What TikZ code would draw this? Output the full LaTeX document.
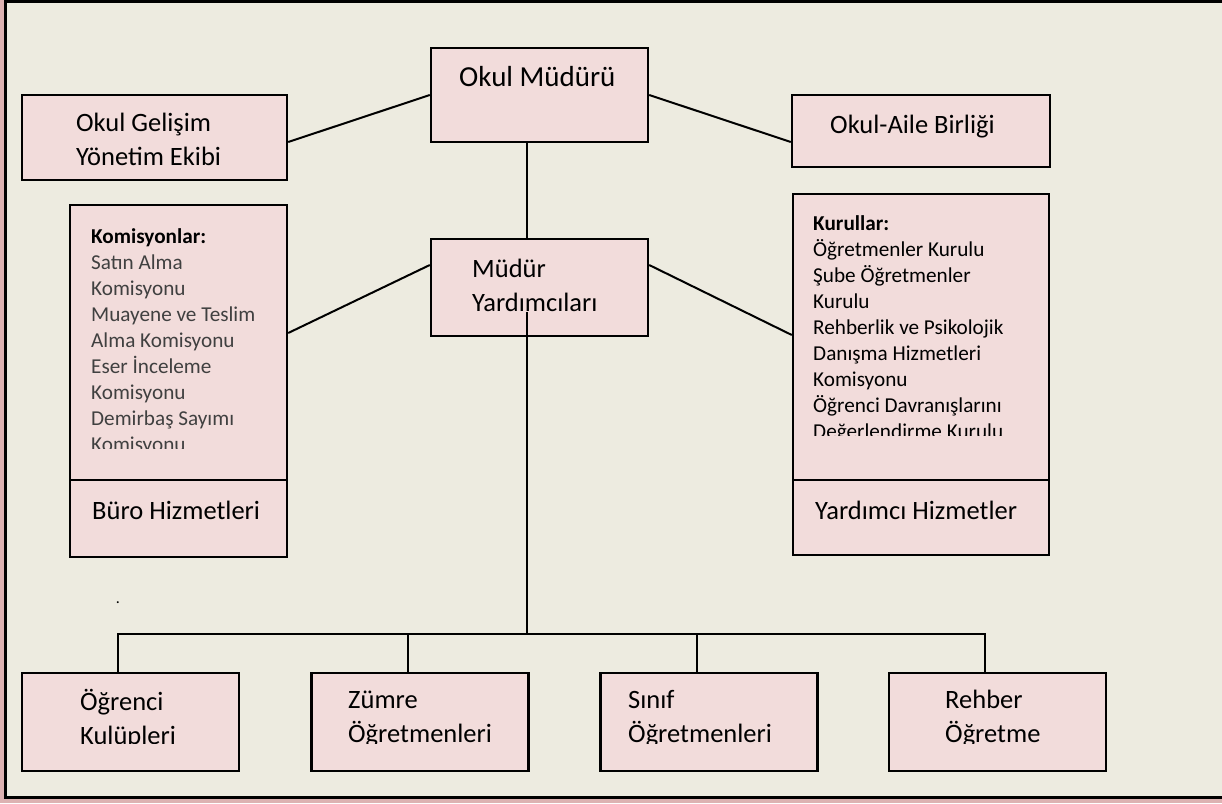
\documentclass[tikz,border=0pt]{standalone}
\usepackage{fontspec}
\setmainfont{Carlito}
\definecolor{kutupembe}{HTML}{F2DCDB}
\definecolor{zemin}{HTML}{EDEBE0}
\definecolor{kenar}{HTML}{DDB2B2}
\definecolor{listegri}{HTML}{404040}

\begin{document}
\begin{tikzpicture}[x=1pt,y=-1pt,
  kutu/.style={draw, fill=kutupembe, line width=2.4pt, inner sep=0pt},
  baslik/.style={font=\fontsize{26.5}{34}\selectfont, align=left, inner sep=0pt, anchor=west},
  liste/.style={font=\fontsize{21.2}{26}\selectfont, align=left, inner sep=0pt, anchor=north west},
  hat/.style={line width=2pt}]
\useasboundingbox (0,0) rectangle (1222,803);
% page frame
\fill[kenar] (0,0) rectangle (1222,803);
\fill[zemin] (5,0) rectangle (1222,797);
\draw[line width=3pt] (1222,1.5) -- (5,1.5) -- (5,797) -- (1222,797);

% boxes
\node[kutu, minimum width=217pt, minimum height=94pt] (mudur) at (539.5,95) {};
\node[kutu, minimum width=265pt, minimum height=85pt] (ekip) at (154.5,137.5) {};
\node[kutu, minimum width=258pt, minimum height=72pt] (aile) at (921,131) {};
\node[kutu, minimum width=217pt, minimum height=97pt] (yard) at (539.5,287.5) {};
\node[kutu, minimum width=217pt, minimum height=275pt] (komis) at (178.5,342.5) {};
\node[kutu, minimum width=217pt, minimum height=77pt] (buro) at (178.5,518.5) {};
\node[kutu, minimum width=256pt, minimum height=286pt] (kurul) at (921,337) {};
\node[kutu, minimum width=256pt, minimum height=75pt] (yhiz) at (921,517.5) {};
\foreach \ad/\x in {ogr/130.5, zum/420, sinif/709, rehber/997.5}
  \node[kutu, minimum width=217pt, minimum height=98pt] (\ad) at (\x,722) {};

% labels
\node[baslik, font=\fontsize{29}{34}\selectfont] (tmudur) at (459,77) {Okul Müdürü};
\node[baslik] (tekip) at (76,139) {Okul Gelişim\\Yönetim Ekibi};
\node[baslik] (taile) at (830,127) {Okul-Aile Birliği};
\node[baslik] (tyard) at (472,285) {Müdür\\Yardımcıları};
\node[baslik] (tburo) at (92,510) {Büro Hizmetleri};
\node[baslik] (tyhiz) at (815,510) {Yardımcı Hizmetler};

\begin{scope} % start of clip scope
\clip (70,205) rectangle (287,448);
\node[liste, text=listegri] (tkomis) at (91,228) {\textcolor{black}{\textbf{Komisyonlar:}}\\Satın Alma\\Komisyonu\\Muayene ve Teslim\\Alma Komisyonu\\Eser İnceleme\\Komisyonu\\Demirbaş Sayımı\\Komisyonu};
\end{scope}
\begin{scope} % start of clip scope
\clip (793,194) rectangle (1049,435);
\node[liste] (tkurul) at (813,215) {\textbf{Kurullar:}\\Öğretmenler Kurulu\\Şube Öğretmenler\\Kurulu\\Rehberlik ve Psikolojik\\Danışma Hizmetleri\\Komisyonu\\Öğrenci Davranışlarını\\Değerlendirme Kurulu};
\end{scope}
\begin{scope} % start of clip scope
\clip (0,650) rectangle (1222,743);
\node[baslik] (togr) at (80,719) {Öğrenci\\Kulüpleri};
\node[baslik] (tzum) at (348,719) {Zümre\\Öğretmenleri};
\node[baslik] (tsinif) at (628,719) {Sınıf\\Öğretmenleri};
\node[baslik] (trehber) at (945,719) {Rehber\\Öğretme};
\end{scope}

% connectors
\draw[hat] (mudur.west) -- ([yshift=-4.5pt]ekip.east);
\draw[hat] (mudur.east) -- ([yshift=-11pt]aile.west);
\draw[hat] ([xshift=-12.5pt]mudur.south) -- ([xshift=-12.5pt]yard.north);
\draw[hat] ([yshift=22.5pt]yard.west) -- ([yshift=9.5pt]komis.east);
\draw[hat] ([yshift=22.5pt]yard.east) -- ([yshift=2pt]kurul.west);
\coordinate (kuyruk) at (527,312);
\coordinate (bara) at (527,634);
\draw[hat] (kuyruk) -- (bara);
\foreach \ad in {ogr,zum,sinif,rehber}
  \draw[hat] ([xshift=-12.5pt]\ad.north) |- (bara);
\node[anchor=base, font=\fontsize{16}{16}\selectfont, inner sep=0pt] (nokta) at (118,603) {.};
\end{tikzpicture}
\end{document}
